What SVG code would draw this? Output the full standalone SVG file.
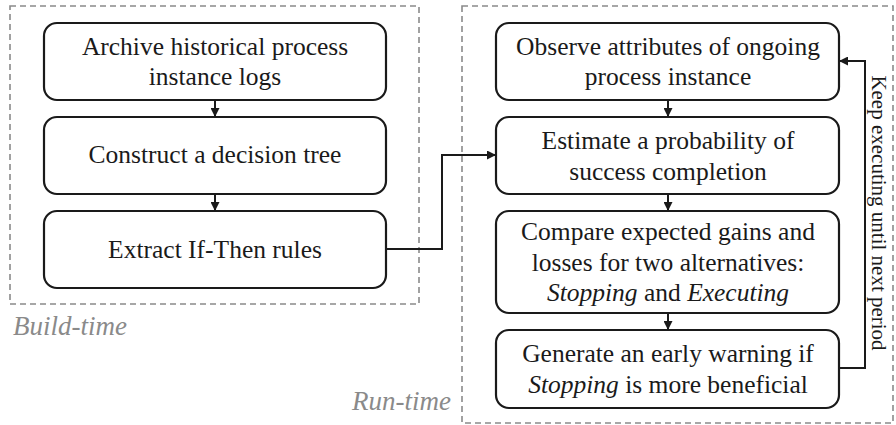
<svg xmlns="http://www.w3.org/2000/svg" width="896" height="425" viewBox="0 0 896 425">
  <style>
    svg text, svg tspan { font-family: 'Liberation Serif', 'Times New Roman', serif !important; }
    .frame { fill: none; stroke: #8a8a8a; stroke-width: 1.6; stroke-dasharray: 6 4; }
    .box { fill: #ffffff; stroke: #1a1a1a; stroke-width: 2.2; }
    .link { fill: none; stroke: #1a1a1a; stroke-width: 2; }
  </style>
  <defs>
    <marker id="arrow" viewBox="0 0 10 10" refX="10" refY="5" markerWidth="4.5" markerHeight="4.5" orient="auto" markerUnits="strokeWidth">
      <path d="M0,0 L10,5 L0,10 z" fill="#1a1a1a"/>
    </marker>
  </defs>
  <rect width="896" height="425" fill="#ffffff"/>

  <g id="archive-logs">
    <rect class="box" x="44" y="23" width="342" height="77" rx="13"/>
    <text x="215" y="55" style="font-family:'Liberation Serif',serif !important" font-size="25.5" fill="#1a1a1a" text-anchor="middle">Archive historical process</text>
    <text x="215" y="85" style="font-family:'Liberation Serif',serif !important" font-size="25.5" fill="#1a1a1a" text-anchor="middle">instance logs</text>
  </g>
  <g id="decision-tree">
    <rect class="box" x="44" y="117" width="342" height="77" rx="13"/>
    <text x="215" y="163" style="font-family:'Liberation Serif',serif !important" font-size="25.5" fill="#1a1a1a" text-anchor="middle">Construct a decision tree</text>
  </g>
  <g id="extract-rules">
    <rect class="box" x="44" y="211" width="342" height="77" rx="13"/>
    <text x="215" y="258" style="font-family:'Liberation Serif',serif !important" font-size="25.5" fill="#1a1a1a" text-anchor="middle">Extract If-Then rules</text>
  </g>
  <g id="observe">
    <rect class="box" x="496" y="23" width="343" height="77" rx="13"/>
    <text x="668" y="55" style="font-family:'Liberation Serif',serif !important" font-size="25.5" fill="#1a1a1a" text-anchor="middle">Observe attributes of ongoing</text>
    <text x="668" y="85" style="font-family:'Liberation Serif',serif !important" font-size="25.5" fill="#1a1a1a" text-anchor="middle">process instance</text>
  </g>
  <g id="estimate">
    <rect class="box" x="496" y="117" width="343" height="77" rx="13"/>
    <text x="668" y="149" style="font-family:'Liberation Serif',serif !important" font-size="25.5" fill="#1a1a1a" text-anchor="middle">Estimate a probability of</text>
    <text x="668" y="180" style="font-family:'Liberation Serif',serif !important" font-size="25.5" fill="#1a1a1a" text-anchor="middle">success completion</text>
  </g>
  <g id="compare">
    <rect class="box" x="496" y="211" width="343" height="102" rx="13"/>
    <text x="668" y="240" style="font-family:'Liberation Serif',serif !important" font-size="25.5" fill="#1a1a1a" text-anchor="middle">Compare expected gains and</text>
    <text x="668" y="271" style="font-family:'Liberation Serif',serif !important" font-size="25.5" fill="#1a1a1a" text-anchor="middle">losses for two alternatives:</text>
    <text x="668" y="301" style="font-family:'Liberation Serif',serif !important" font-size="25.5" fill="#1a1a1a" text-anchor="middle"><tspan font-style="italic">Stopping</tspan> and <tspan font-style="italic">Executing</tspan></text>
  </g>
  <g id="warning">
    <rect class="box" x="496" y="330" width="343" height="78" rx="13"/>
    <text x="668" y="362" style="font-family:'Liberation Serif',serif !important" font-size="25.5" fill="#1a1a1a" text-anchor="middle">Generate an early warning if</text>
    <text x="668" y="393" style="font-family:'Liberation Serif',serif !important" font-size="25.5" fill="#1a1a1a" text-anchor="middle"><tspan font-style="italic">Stopping</tspan> is more beneficial</text>
  </g>

  <g id="build-time">
    <rect class="frame" x="10" y="6" width="409" height="298"/>
    <text x="13" y="335" style="font-family:'Liberation Serif',serif !important" font-size="27" font-style="italic" fill="#8a8a8a">Build-time</text>
  </g>
  <g id="run-time">
    <rect class="frame" x="462" y="6" width="431" height="417"/>
    <text x="352" y="410" style="font-family:'Liberation Serif',serif !important" font-size="27" font-style="italic" fill="#8a8a8a">Run-time</text>
  </g>

  <g id="connectors">
    <line class="link" x1="215" y1="100" x2="215" y2="117" marker-end="url(#arrow)"/>
    <line class="link" x1="215" y1="194" x2="215" y2="211" marker-end="url(#arrow)"/>
    <polyline class="link" points="386,249 442,249 442,155 496,155" marker-end="url(#arrow)"/>
    <line class="link" x1="668" y1="100" x2="668" y2="117" marker-end="url(#arrow)"/>
    <line class="link" x1="668" y1="194" x2="668" y2="211" marker-end="url(#arrow)"/>
    <line class="link" x1="668" y1="313" x2="668" y2="330" marker-end="url(#arrow)"/>
    <polyline class="link" points="839,368 865,368 865,61 839,61" marker-end="url(#arrow)"/>
    <text transform="translate(872,213) rotate(90)" style="font-family:'Liberation Serif',serif !important" font-size="21" fill="#1a1a1a" text-anchor="middle">Keep executing until next period</text>
  </g>
</svg>
